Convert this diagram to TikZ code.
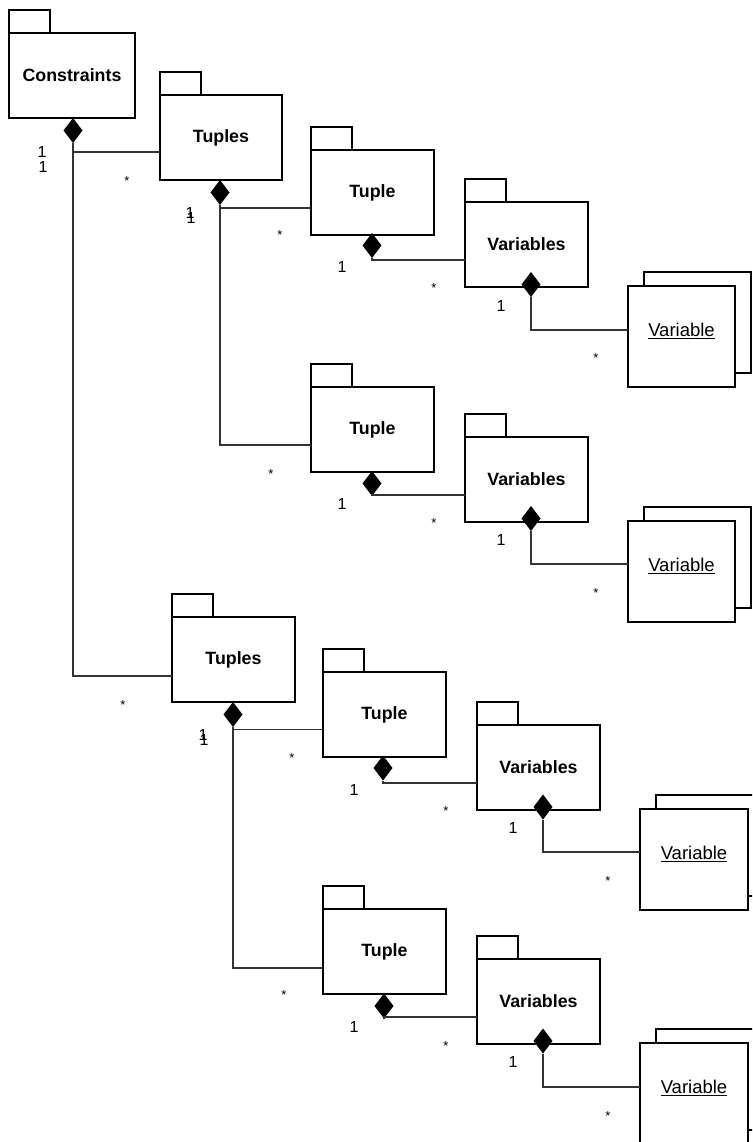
\documentclass[tikz,border=0pt]{standalone}
\usepackage{fontspec}
\setmainfont{Liberation Sans}
\usetikzlibrary{shapes.geometric}

\begin{document}
\begin{tikzpicture}[x=1pt,y=-1pt,line join=miter,
  pkg/.style={draw,line width=1.6pt,fill=white,anchor=north west,
    minimum width=123pt,minimum height=85pt,inner sep=0pt,outer sep=0pt,
    font=\fontsize{17.8}{20}\selectfont\bfseries},
  obj/.style={draw,line width=1.6pt,fill=white,anchor=north west,
    minimum width=107pt,minimum height=101pt,inner sep=0pt,outer sep=0pt,
    text height=0pt,text depth=0pt,font=\fontsize{18.5}{21}\selectfont},
  box/.style={line width=1.6pt},
  dia/.style={diamond,fill=black,inner sep=0pt,outer sep=0pt,
    minimum width=19pt,minimum height=25pt},
  assoc/.style={black!80,line width=1.1pt},
  mult/.style={inner sep=0pt,font=\fontsize{16}{18}\selectfont},
  many/.style={inner sep=0pt,font=\fontsize{13}{15}\selectfont,yshift=-2.9pt}]
\path[use as bounding box] (0,0) rectangle (752,1142);
\clip (0,0) rectangle (752,1142);
\fill[white] (0,0) rectangle (752,1142);

% packages
\node[pkg,minimum width=126pt] (cons) at (9,33) {Constraints};
\node[pkg,minimum width=122pt] (tps1) at (160,95) {Tuples};
\node[pkg] (tp1) at (311,150) {Tuple};
\node[pkg] (vs1) at (465,202) {Variables};
\node[pkg] (tp2) at (311,387) {Tuple};
\node[pkg] (vs2) at (465,437) {Variables};
\node[pkg] (tps2) at (172,617) {Tuples};
\node[pkg] (tp3) at (323,672) {Tuple};
\node[pkg] (vs3) at (477,725) {Variables};
\node[pkg] (tp4) at (323,909) {Tuple};
\node[pkg] (vs4) at (477,959) {Variables};
\foreach \p in {cons,tps1,tp1,vs1,tp2,vs2,tps2,tp3,vs3,tp4,vs4}
  \draw[box] (\p.north west) rectangle ++(41,-23);

% objects (stacked)
\node[obj] (v1) at (628,286) {\underline{Variable}};
\node[obj] (v2) at (628,521) {\underline{Variable}};
\node[obj,minimum width=108pt] (v3) at (640,809) {\underline{Variable}};
\node[obj,minimum width=108pt] (v4) at (640,1043) {\underline{Variable}};
\foreach \o in {v1,v2,v3,v4}
  \draw[box] ([xshift=16pt]\o.north west) |- ([shift={(16pt,14pt)}]\o.north east)
    |- ([yshift=14pt]\o.south east);

% composition diamonds
\node[dia] (d0) at (73,130.5) {};
\node[dia] (d1) at (220,192.5) {};
\node[dia] (d2) at (372,245.5) {};
\node[dia] (d3) at (531,284.5) {};
\node[dia] (d4) at (372,483.5) {};
\node[dia] (d5) at (531,518.5) {};
\node[dia] (d6) at (233,714.5) {};
\node[dia] (d7) at (383,768) {};
\node[dia] (d8) at (543,807) {};
\node[dia] (d9) at (384,1006) {};
\node[dia] (d10) at (543,1041) {};

% associations
\draw[assoc] (d0.south) |- ([yshift=-14.5pt]tps1.west);
\draw[assoc] (d0.south) |- ([yshift=-16.5pt]tps2.west);
\draw[assoc] (d1.south) |- ([yshift=-15.5pt]tp1.west);
\draw[assoc] (d1.south) |- ([yshift=-15.5pt]tp2.west);
\draw[assoc] (d2.south) |- ([yshift=-15.5pt]vs1.west);
\draw[assoc] (d3.south) |- ([yshift=6.5pt]v1.west);
\draw[assoc] (d4.south) |- ([yshift=-15.5pt]vs2.west);
\draw[assoc] (d5.south) |- ([yshift=7.5pt]v2.west);
\draw[assoc] (d6.south) |- ([yshift=-15pt]tp3.west);
\draw[assoc] (d6.south) |- ([yshift=-16.5pt]tp4.west);
\draw[assoc] (d7.south) |- ([yshift=-15.5pt]vs3.west);
\draw[assoc] (d8.south) |- ([yshift=7.5pt]v3.west);
\draw[assoc] (d9.south) |- ([yshift=-15.5pt]vs4.west);
\draw[assoc] (d10.south) |- ([yshift=6.5pt]v4.west);

% multiplicities
\node[mult] (m0a) at (42,152) {1};
\node[mult] (m0b) at (43,167) {1};
\node[many] (s1) at (127,178) {*};
\node[mult] (m1a) at (190,213) {1};
\node[mult] (m1b) at (191,218) {1};
\node[many] (s2) at (280,232) {*};
\node[mult] (m2) at (342,267) {1};
\node[many] (s3) at (434,285) {*};
\node[mult] (m3) at (501,306) {1};
\node[many] (s4) at (596,355) {*};
\node[many] (s5) at (271,471) {*};
\node[mult] (m4) at (342,504) {1};
\node[many] (s6) at (434,520) {*};
\node[mult] (m5) at (501,540) {1};
\node[many] (s7) at (596,590) {*};
\node[many] (s8) at (123,702) {*};
\node[mult] (m6a) at (203,735) {1};
\node[mult] (m6b) at (204,740) {1};
\node[many] (s9) at (292,755) {*};
\node[mult] (m7) at (354,790) {1};
\node[many] (s10) at (446,808) {*};
\node[mult] (m8) at (513,828) {1};
\node[many] (s11) at (608,878) {*};
\node[many] (s12) at (284,992) {*};
\node[mult] (m9) at (354,1027) {1};
\node[many] (s13) at (446,1043) {*};
\node[mult] (m10) at (513,1062) {1};
\node[many] (s14) at (608,1113) {*};
\end{tikzpicture}
\end{document}
